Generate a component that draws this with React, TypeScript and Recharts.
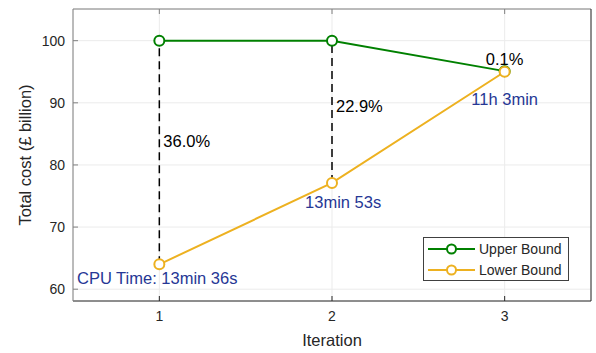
import {
  ComposedChart,
  Line,
  XAxis,
  YAxis,
  CartesianGrid,
  ReferenceLine,
  ReferenceDot,
  Legend,
} from "recharts"

const iterations = [1, 2, 3]
const upperBound = [100, 100, 95.1]
const lowerBound = [64.0, 77.1, 95.0]
const gapLabels = ["36.0%", "22.9%", "0.1%"]
const cpuTimes = ["CPU Time: 13min 36s", "13min 53s", "11h 3min"]
const yTicks = [60, 70, 80, 90, 100]

const GREEN = "#008000"
const ORANGE = "#EDB120"
const TEXT_BLUE = "#263795"
const AXIS = "#262626"
const FONT = '"Liberation Sans", Arial, Helvetica, sans-serif'

const rows = iterations.map((it, i) => ({
  iter: it,
  upper: upperBound[i],
  lower: lowerBound[i],
}))

const series = [
  { name: "Upper Bound", color: GREEN },
  { name: "Lower Bound", color: ORANGE },
]

function LegendBox() {
  return (
    <div
      style={{
        width: 146,
        height: 44,
        boxSizing: "border-box",
        border: "1px solid #404040",
        background: "#fff",
        position: "relative",
        fontFamily: FONT,
      }}
    >
      {series.map((s, i) => (
        <div
          key={s.name}
          style={{
            position: "absolute",
            left: 0,
            top: 1 + i * 20.5,
            height: 20,
            display: "flex",
            alignItems: "center",
          }}
        >
          <svg width={55} height={20}>
            <line x1={4} x2={51} y1={10} y2={10} stroke={s.color} strokeWidth={2} />
            <circle cx={27.5} cy={10} r={4.5} fill="#fff" stroke={s.color} strokeWidth={2} />
          </svg>
          <span style={{ fontSize: 14, color: AXIS, whiteSpace: "nowrap" }}>{s.name}</span>
        </div>
      ))}
    </div>
  )
}

const YLabel = (props: any) => {
  const { viewBox } = props
  const cx = viewBox.x + 25
  const cy = viewBox.y + viewBox.height / 2
  return (
    <text
      x={cx}
      y={cy}
      transform={`rotate(-90 ${cx} ${cy})`}
      textAnchor="middle"
      dominantBaseline="central"
      fontSize={16.5}
      fill={AXIS}
    >
      Total cost (£ billion)
    </text>
  )
}

export default function App() {
  const gapAnchors = [
    { x: 1, y: 83.9, pos: "right" },
    { x: 2, y: 89.4, pos: "right" },
    { x: 3, y: 97.1, pos: "center" },
  ]
  const timeAnchors = [
    { x: 0.523, y: 61.7, pos: "right" },
    { x: 1.844, y: 74.0, pos: "right" },
    { x: 3, y: 90.6, pos: "center" },
  ]

  return (
    <div style={{ position: "absolute", left: 0, top: 0, fontFamily: FONT }}>
      <ComposedChart
        width={596}
        height={353}
        data={rows}
        margin={{ top: 4, right: 0, bottom: 0, left: 0 }}
      >
        <CartesianGrid stroke="#ebebeb" strokeWidth={1} />
        <XAxis
          dataKey="iter"
          type="number"
          domain={[0.5, 3.5]}
          ticks={iterations}
          height={52}
          stroke={AXIS}
          tickSize={-5}
          tickMargin={15}
          tick={{ fill: AXIS, fontSize: 14 }}
          label={{
            value: "Iteration",
            position: "insideBottom",
            offset: 7,
            fill: AXIS,
            fontSize: 16.5,
          }}
        />
        <XAxis
          xAxisId="top"
          orientation="top"
          dataKey="iter"
          type="number"
          domain={[0.5, 3.5]}
          ticks={iterations}
          height={5}
          stroke="#808080"
          tickSize={-5}
          tickFormatter={() => ""}
        />
        <YAxis
          type="number"
          domain={[58.1, 105.1]}
          ticks={yTicks}
          width={73}
          stroke="#808080"
          tickSize={-5}
          tickMargin={13}
          tick={{ fill: AXIS, fontSize: 14 }}
          label={<YLabel />}
        />
        <YAxis
          yAxisId="right"
          orientation="right"
          type="number"
          domain={[58.1, 105.1]}
          ticks={yTicks}
          width={5}
          stroke={AXIS}
          tickSize={-5}
          tickFormatter={() => ""}
        />
        {iterations.slice(0, 2).map((it, i) => (
          <ReferenceLine
            key={`gap-${it}`}
            segment={[
              { x: it, y: lowerBound[i] },
              { x: it, y: upperBound[i] },
            ]}
            stroke="#000"
            strokeWidth={1.5}
            strokeDasharray="8 5"
            ifOverflow="visible"
          />
        ))}
        <Line
          dataKey="upper"
          name="Upper Bound"
          stroke={GREEN}
          strokeWidth={2}
          dot={{ r: 5, fill: "#fff", stroke: GREEN, strokeWidth: 2 }}
          isAnimationActive={false}
        />
        <Line
          dataKey="lower"
          name="Lower Bound"
          stroke={ORANGE}
          strokeWidth={2}
          dot={{ r: 5, fill: "#fff", stroke: ORANGE, strokeWidth: 2 }}
          isAnimationActive={false}
        />
        {gapAnchors.map((a, i) => (
          <ReferenceDot
            key={`gl-${i}`}
            x={a.x}
            y={a.y}
            r={0}
            stroke="none"
            fill="none"
            ifOverflow="visible"
            label={{
              value: gapLabels[i],
              position: a.pos as any,
              offset: 4,
              fill: "#000",
              fontSize: 16.5,
            }}
          />
        ))}
        {timeAnchors.map((a, i) => (
          <ReferenceDot
            key={`tl-${i}`}
            x={a.x}
            y={a.y}
            r={0}
            stroke="none"
            fill="none"
            ifOverflow="visible"
            label={{
              value: cpuTimes[i],
              position: a.pos as any,
              offset: 0,
              fill: TEXT_BLUE,
              fontSize: 16.5,
            }}
          />
        ))}
        <Legend
          layout="horizontal"
          align="center"
          verticalAlign="middle"
          content={() => <LegendBox />}
          wrapperStyle={{ left: 423, top: 237, width: 146, height: 44 }}
        />
      </ComposedChart>
    </div>
  )
}
